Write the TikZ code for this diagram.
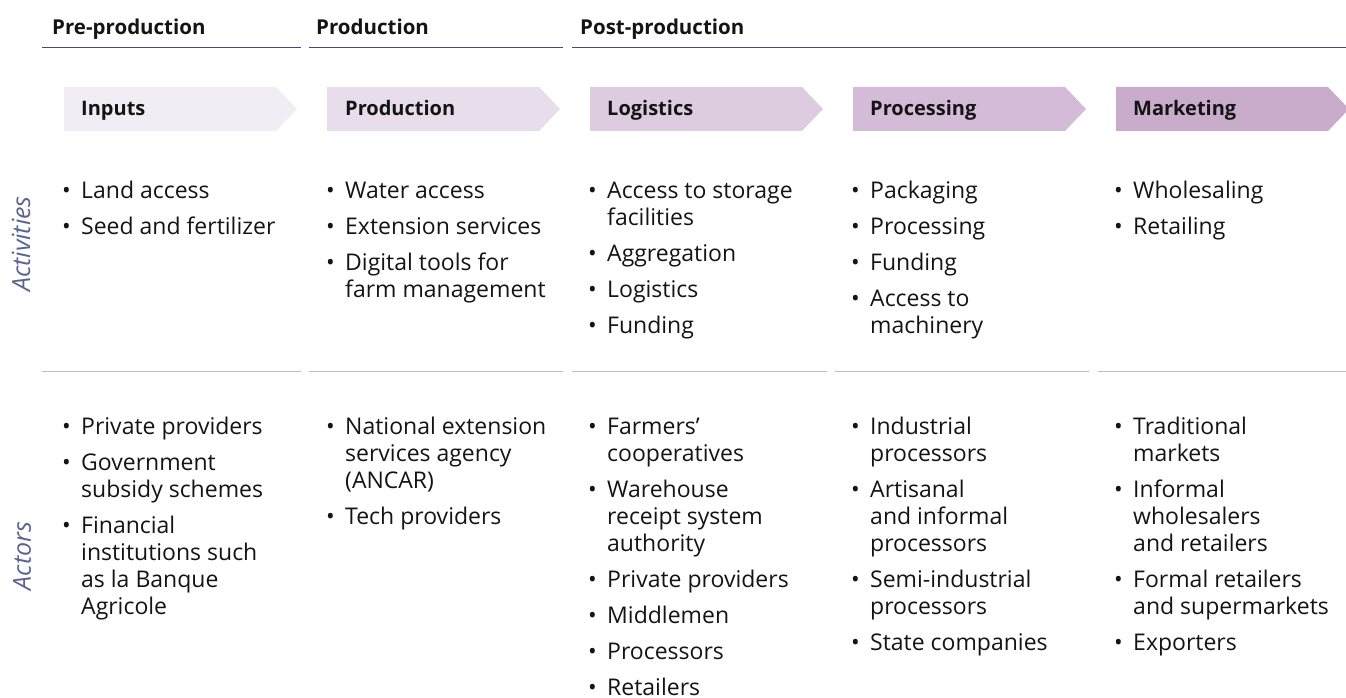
\documentclass[tikz,border=0pt]{standalone}
\usepackage{fontspec}
\setmainfont{Open Sans}
\definecolor{ink}{HTML}{141414}
\definecolor{navy}{HTML}{3F4B78}
\definecolor{rule}{HTML}{CFB3D6}
\definecolor{side}{HTML}{5B6391}
\definecolor{stepA}{HTML}{F2ECF4}
\definecolor{stepB}{HTML}{E8DDEB}
\definecolor{stepC}{HTML}{DDCCE0}
\definecolor{stepD}{HTML}{D4BCD8}
\definecolor{stepE}{HTML}{C9ABCB}
% bullet item and continuation line
\newcommand{\bitem}{\strut\makebox[19pt][l]{\textbullet}}
\newcommand{\bcont}{\hspace*{19pt}}
\begin{document}
\begin{tikzpicture}[x=1pt,y=-1pt,
  phase/.style={anchor=base west,inner sep=0pt,text=ink,font=\fontsize{20.5}{24}\selectfont\bfseries},
  steplabel/.style={anchor=base west,inner sep=0pt,text=ink,font=\fontsize{20}{24}\selectfont\bfseries},
  listbox/.style={anchor=north west,inner sep=0pt,align=left,text=ink,font=\fontsize{23}{27}\selectfont},
  sidelabel/.style={rotate=90,inner sep=0pt,text=side,font=\fontsize{25}{28}\selectfont\itshape},
  headrule/.style={draw=navy,line width=1.5pt},
  midrule/.style={draw=rule,line width=1.5pt}]
\useasboundingbox (0,0) rectangle (1346,698);

% phase headings and their rules
\node[phase] (pre) at (52,35) {Pre-production};
\node[phase] (prod) at (316,35) {Production};
\node[phase] (post) at (580,35) {Post-production};
\draw[headrule] (42,47.5) -- (301,47.5);
\draw[headrule] (309,47.5) -- (563,47.5);
\draw[headrule] (572,47.5) -- (1346,47.5);

% chevrons
\foreach \x/\c in {64/stepA,327/stepB,590/stepC,853/stepD,1116/stepE}{
  \fill[\c] (\x,87) -- ++(212,0) -- ++(21,22) -- ++(-21,22) -- ++(-212,0) -- cycle;
}
\node[steplabel] (s1) at (81,116) {Inputs};
\node[steplabel] (s2) at (345,116) {Production};
\node[steplabel] (s3) at (607,116) {Logistics};
\node[steplabel] (s4) at (870,116) {Processing};
\node[steplabel] (s5) at (1133,116) {Marketing};

% row labels
\node[sidelabel] (act) at (21,244) {Activities};
\node[sidelabel] (actr) at (22,556) {Actors};

% separators between the two rows
\foreach \a/\b in {42/301,309/563,572/827,835/1089,1098/1346}{
  \draw[midrule] (\a,371.5) -- (\b,371.5);
}

% activities
\node[listbox] (a1) at (62,179) {\bitem Land access\\[9pt]\bitem Seed and fertilizer};
\node[listbox] (a2) at (326,179) {\bitem Water access\\[9pt]\bitem Extension services\\[9pt]\bitem Digital tools for\\\bcont farm management};
\node[listbox] (a3) at (588,179) {\bitem Access to storage\\\bcont facilities\\[9pt]\bitem Aggregation\\[9pt]\bitem Logistics\\[9pt]\bitem Funding};
\node[listbox] (a4) at (851,179) {\bitem Packaging\\[9pt]\bitem Processing\\[9pt]\bitem Funding\\[9pt]\bitem Access to\\\bcont machinery};
\node[listbox] (a5) at (1114,179) {\bitem Wholesaling\\[9pt]\bitem Retailing};

% actors
\node[listbox] (b1) at (62,415) {\bitem Private providers\\[9pt]\bitem Government\\\bcont subsidy schemes\\[9pt]\bitem Financial\\\bcont institutions such\\\bcont as la Banque\\\bcont Agricole};
\node[listbox] (b2) at (326,415) {\bitem National extension\\\bcont services agency\\\bcont (ANCAR)\\[9pt]\bitem Tech providers};
\node[listbox] (b3) at (588,415) {\bitem Farmers’\\\bcont cooperatives\\[9pt]\bitem Warehouse\\\bcont receipt system\\\bcont authority\\[9pt]\bitem Private providers\\[9pt]\bitem Middlemen\\[9pt]\bitem Processors\\[9pt]\bitem Retailers};
\node[listbox] (b4) at (851,415) {\bitem Industrial\\\bcont processors\\[9pt]\bitem Artisanal\\\bcont and informal\\\bcont processors\\[9pt]\bitem Semi-industrial\\\bcont processors\\[9pt]\bitem State companies};
\node[listbox] (b5) at (1114,415) {\bitem Traditional\\\bcont markets\\[9pt]\bitem Informal\\\bcont wholesalers\\\bcont and retailers\\[9pt]\bitem Formal retailers\\\bcont and supermarkets\\[9pt]\bitem Exporters};
\end{tikzpicture}
\end{document}
